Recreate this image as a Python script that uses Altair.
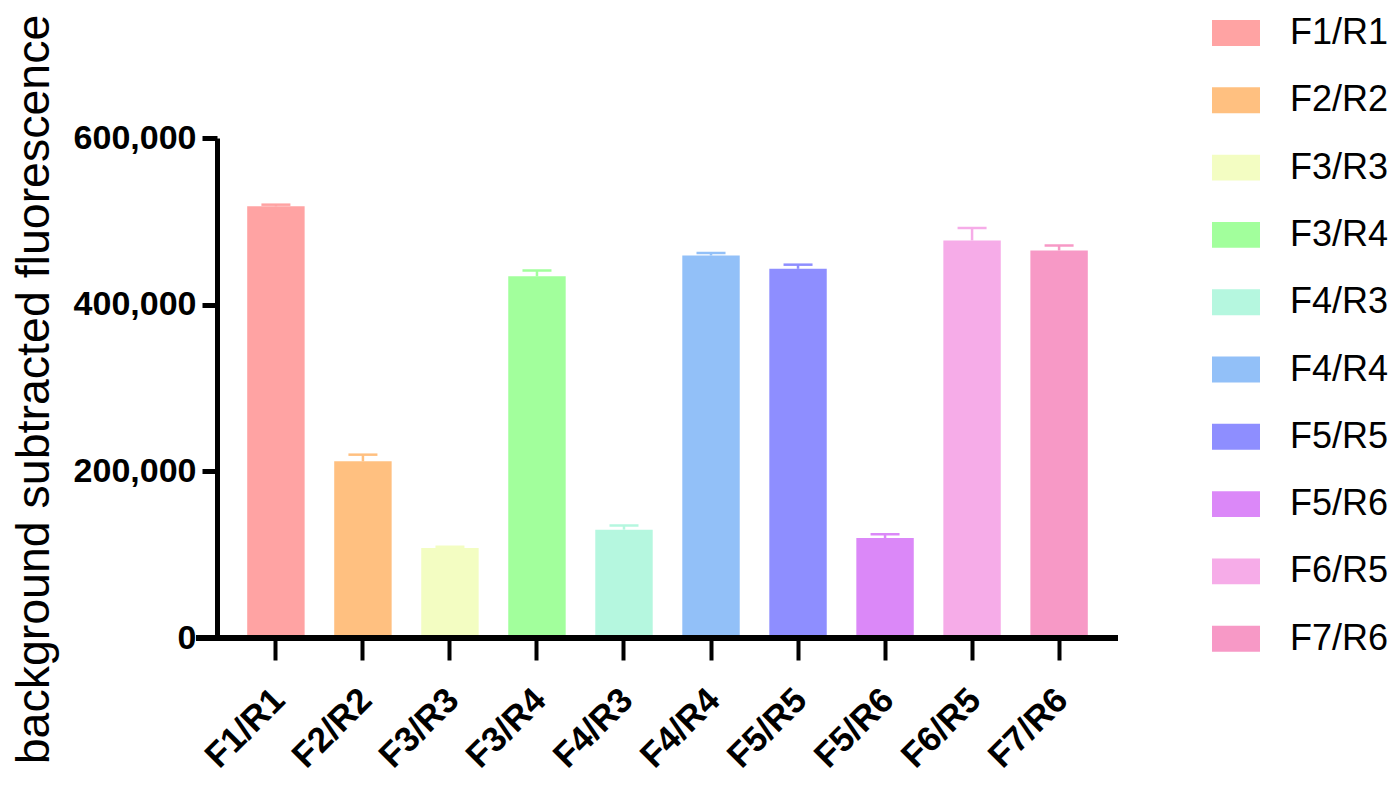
import altair as alt
import pandas as pd

categories = ["F1/R1", "F2/R2", "F3/R3", "F3/R4", "F4/R3", "F4/R4", "F5/R5", "F5/R6", "F6/R5", "F7/R6"]
means = [518000, 212000, 108000, 434000, 130000, 459000, 443000, 120000, 477000, 465000]
errors = [2000, 8000, 1500, 7000, 5000, 3000, 5000, 4500, 15000, 6000]
colors = ["#FFA3A3", "#FFC080", "#F3FDC2", "#A2FF9C", "#B5F7DF", "#92C0F8", "#8E8EFF", "#DB88F8", "#F6ACE8", "#F799C6"]
y_ticks = [0, 200000, 400000, 600000]

df = pd.DataFrame({"cat": categories, "mean": means, "err": errors})
df["top"] = df["mean"] + df["err"]

W, H = 901, 500
FONT = "Liberation Sans"

xenc = alt.X("cat:N", sort=categories, title=None,
             scale=alt.Scale(paddingInner=0.34, paddingOuter=0.347),
             axis=alt.Axis(domain=False, labelAngle=-45, labelAlign="right", labelBaseline="top",
                           labelFont=FONT, labelFontSize=35, labelFontWeight="bold", labelColor="black",
                           labelPadding=22, labelOffset=-9, tickSize=22, tickWidth=4, tickColor="black"))
yscale = alt.Scale(domain=[0, 600000], nice=False)
color = alt.Color("cat:N", sort=categories, scale=alt.Scale(domain=categories, range=colors),
                  legend=alt.Legend(title=None, orient="none", legendX=995, legendY=-129, padding=0,
                                    symbolType="M-1,-0.54H1V0.54H-1Z", symbolSize=2304,
                                    symbolStrokeWidth=0, symbolOpacity=1, labelOffset=30,
                                    labelFont=FONT, labelFontSize=36, labelColor="black",
                                    rowPadding=25.3, labelLimit=300))

bars = alt.Chart(df).mark_bar(opacity=1).encode(
    x=xenc,
    y=alt.Y("mean:Q", scale=yscale, title="background subtracted fluorescence",
            axis=alt.Axis(values=y_ticks, format=",d", domainWidth=5, domainColor="black",
                          tickSize=15, tickWidth=5, tickColor="black", grid=False,
                          labelFont=FONT, labelFontSize=34, labelFontWeight="bold", labelColor="black",
                          labelPadding=6, titleFont=FONT, titleFontSize=46.5, titleFontWeight="normal",
                          titleColor="black", titleX=-183, titleY=251, titleAngle=-90,
                          titleAlign="center", titleBaseline="middle")),
    color=color,
)

err_line = alt.Chart(df).mark_rule(strokeWidth=2.5).encode(
    x=alt.X("cat:N", sort=categories),
    y=alt.Y("mean:Q", scale=yscale),
    y2="top:Q",
    color=alt.Color("cat:N", sort=categories, scale=alt.Scale(domain=categories, range=colors), legend=None),
)
err_cap = alt.Chart(df).mark_tick(orient="horizontal", size=29, thickness=2.5, opacity=1).encode(
    x=alt.X("cat:N", sort=categories),
    y=alt.Y("top:Q", scale=yscale),
    color=alt.Color("cat:N", sort=categories, scale=alt.Scale(domain=categories, range=colors), legend=None),
)
xline = alt.Chart(df).mark_rule(strokeWidth=5, color="black").encode(
    x=alt.value(-21), x2=alt.value(W), y=alt.value(H)
)

chart = alt.layer(bars, err_line, err_cap, xline).properties(
    width=W, height=H,
    autosize=alt.AutoSizeParams(type="none"),
    padding={"left": 209, "top": 130, "right": 271, "bottom": 139},
).configure(background="white", view=alt.ViewConfig(stroke=None, strokeWidth=0))

chart.save("out.html", embed_options={"renderer": "svg", "actions": False})
